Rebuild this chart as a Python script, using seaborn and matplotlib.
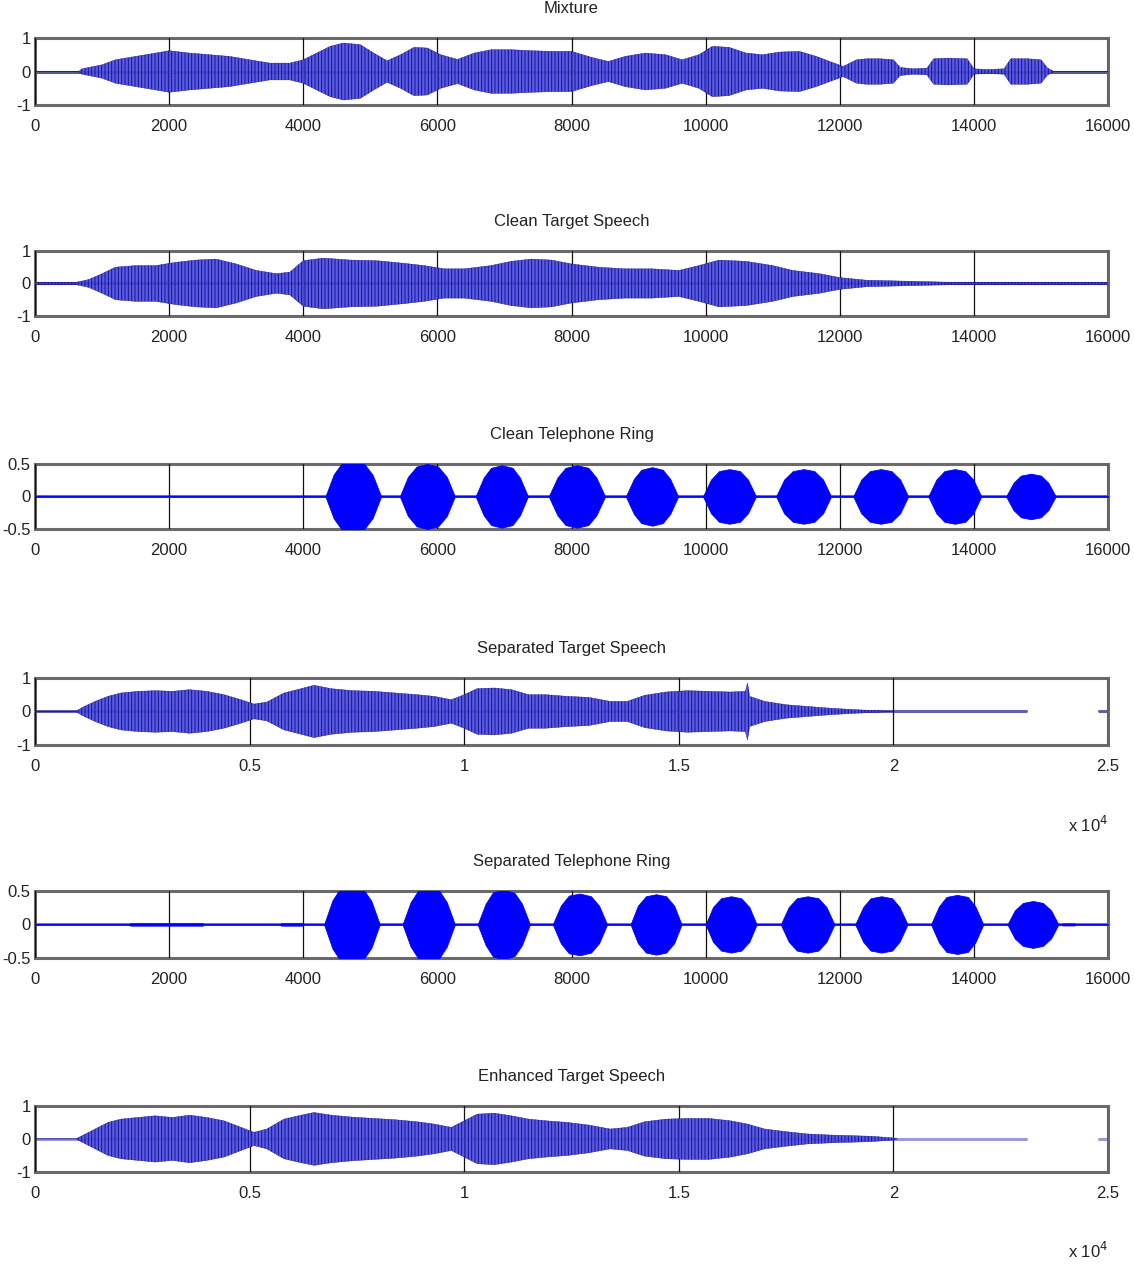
"""Speech / telephone ring separation waveforms, six stacked panels."""

import matplotlib.pyplot as plt
import seaborn as sns

# ---- data: waveform envelopes (sample index, peak amplitude) ----
mixture_env = [
    (0, 0), (650, 0), (700, 0.08), (1000, 0.2), (1200, 0.35), (1500, 0.45), (1800, 0.55),
    (2000, 0.62), (2300, 0.55), (2600, 0.5), (2900, 0.45), (3200, 0.35), (3500, 0.25),
    (3800, 0.25), (4000, 0.35), (4200, 0.55), (4400, 0.75), (4600, 0.85), (4850, 0.8),
    (5050, 0.55), (5250, 0.32), (5450, 0.5), (5650, 0.72), (5850, 0.7), (6050, 0.5),
    (6300, 0.36), (6550, 0.55), (6800, 0.65), (7100, 0.65), (7400, 0.62), (7700, 0.6),
    (8000, 0.6), (8300, 0.42), (8550, 0.3), (8800, 0.45), (9100, 0.55), (9400, 0.5),
    (9650, 0.35), (9900, 0.5), (10100, 0.75), (10350, 0.72), (10600, 0.55), (10850, 0.5),
    (11100, 0.58), (11400, 0.6), (11650, 0.45), (11850, 0.3), (12050, 0.15), (12250, 0.35),
    (12400, 0.38), (12600, 0.38), (12800, 0.35), (12900, 0.12), (13100, 0.08), (13300, 0.1),
    (13400, 0.38), (13600, 0.4), (13900, 0.38), (14000, 0.08), (14200, 0.06), (14450, 0.08),
    (14550, 0.38), (14800, 0.38), (15000, 0.35), (15100, 0.1), (15200, 0), (16000, 0),
]

clean_speech_env = [
    (0, 0.03), (600, 0.03), (800, 0.12), (1000, 0.3), (1200, 0.5), (1500, 0.55), (1800, 0.55),
    (2100, 0.65), (2400, 0.72), (2700, 0.75), (3000, 0.6), (3300, 0.4), (3600, 0.3),
    (3800, 0.35), (4000, 0.7), (4300, 0.78), (4700, 0.72), (5100, 0.7), (5500, 0.62),
    (5800, 0.55), (6100, 0.45), (6400, 0.45), (6800, 0.55), (7100, 0.68), (7400, 0.75),
    (7700, 0.72), (8000, 0.6), (8400, 0.5), (8800, 0.45), (9200, 0.45), (9600, 0.4),
    (9900, 0.55), (10200, 0.72), (10600, 0.68), (11000, 0.55), (11300, 0.4), (11700, 0.3),
    (12000, 0.18), (12400, 0.1), (12800, 0.08), (13200, 0.06), (13600, 0.04), (14000, 0.03),
    (16000, 0.03),
]

clean_ring_env = [
    (0, 0),
    (4330, 0), (4455, 0.34), (4580, 0.52), (4745, 0.56), (4910, 0.5), (5035, 0.33), (5160, 0),
    (5440, 0), (5560, 0.3), (5690, 0.46), (5850, 0.5), (6010, 0.46), (6140, 0.3), (6260, 0),
    (6570, 0), (6690, 0.29), (6800, 0.44), (6960, 0.48), (7120, 0.44), (7230, 0.29), (7350, 0),
    (7660, 0), (7790, 0.29), (7910, 0.44), (8080, 0.48), (8250, 0.44), (8370, 0.29), (8500, 0),
    (8810, 0), (8930, 0.27), (9040, 0.41), (9200, 0.45), (9360, 0.41), (9470, 0.27), (9590, 0),
    (9960, 0), (10080, 0.26), (10200, 0.39), (10355, 0.42), (10510, 0.39), (10630, 0.26), (10750, 0),
    (11050, 0), (11170, 0.26), (11300, 0.39), (11460, 0.42), (11620, 0.39), (11750, 0.26), (11870, 0),
    (12200, 0), (12320, 0.26), (12450, 0.39), (12610, 0.42), (12770, 0.39), (12900, 0.26), (13020, 0),
    (13320, 0), (13440, 0.26), (13560, 0.39), (13715, 0.42), (13870, 0.39), (13990, 0.26), (14110, 0),
    (14480, 0), (14590, 0.21), (14700, 0.32), (14850, 0.35), (15000, 0.32), (15110, 0.21), (15220, 0),
    (16000, 0),
]

sep_speech_env = [
    (0, 0), (950, 0), (1100, 0.12), (1400, 0.3), (1700, 0.45), (2000, 0.55), (2400, 0.6),
    (2800, 0.62), (3200, 0.6), (3600, 0.65), (4000, 0.6), (4400, 0.5), (4800, 0.35),
    (5100, 0.22), (5400, 0.28), (5800, 0.55), (6200, 0.68), (6500, 0.78), (6900, 0.68),
    (7400, 0.62), (7900, 0.6), (8400, 0.55), (8900, 0.5), (9300, 0.45), (9700, 0.35),
    (10000, 0.5), (10300, 0.68), (10700, 0.7), (11100, 0.65), (11500, 0.5), (11900, 0.5),
    (12400, 0.45), (12900, 0.42), (13400, 0.3), (13800, 0.3), (14200, 0.48), (14700, 0.58),
    (15200, 0.62), (15700, 0.6), (16200, 0.58), (16550, 0.6), (16600, 0.85), (16650, 0.45),
    (17000, 0.3), (17500, 0.2), (18000, 0.15), (18500, 0.1), (19000, 0.06), (19500, 0.03),
    (20000, 0),
]

sep_ring_env = [
    (0, 0),
    (1400, 0), (1420, 0.018), (2500, 0.018), (2520, 0),
    (3650, 0), (3670, 0.018), (3980, 0.018), (4000, 0),
    (4310, 0), (4435, 0.36), (4560, 0.55), (4725, 0.6), (4890, 0.53), (5015, 0.35), (5140, 0),
    (5480, 0), (5600, 0.33), (5710, 0.5), (5870, 0.55), (6030, 0.5), (6140, 0.33), (6260, 0),
    (6600, 0), (6720, 0.31), (6830, 0.48), (6990, 0.52), (7150, 0.47), (7260, 0.31), (7380, 0),
    (7720, 0), (7840, 0.28), (7960, 0.43), (8125, 0.46), (8290, 0.42), (8410, 0.28), (8530, 0),
    (8880, 0), (8990, 0.28), (9110, 0.42), (9260, 0.45), (9410, 0.42), (9530, 0.28), (9640, 0),
    (10000, 0), (10110, 0.26), (10230, 0.39), (10380, 0.42), (10530, 0.39), (10650, 0.26), (10760, 0),
    (11120, 0), (11240, 0.26), (11360, 0.39), (11520, 0.42), (11680, 0.39), (11800, 0.26), (11920, 0),
    (12230, 0), (12350, 0.26), (12460, 0.39), (12620, 0.42), (12780, 0.39), (12890, 0.26), (13010, 0),
    (13360, 0), (13480, 0.27), (13590, 0.41), (13750, 0.44), (13910, 0.41), (14020, 0.27), (14140, 0),
    (14500, 0), (14610, 0.21), (14730, 0.32), (14880, 0.35), (15030, 0.32), (15150, 0.21), (15260, 0),
    (15300, 0), (15320, 0.015), (15500, 0.015), (15520, 0), (16000, 0),
]

enhanced_env = [
    (0, 0), (950, 0), (1100, 0.1), (1400, 0.3), (1700, 0.5), (2000, 0.6), (2400, 0.65),
    (2800, 0.7), (3200, 0.65), (3600, 0.72), (4000, 0.65), (4400, 0.55), (4800, 0.35),
    (5100, 0.2), (5400, 0.3), (5800, 0.6), (6200, 0.72), (6500, 0.8), (6900, 0.72),
    (7400, 0.66), (7900, 0.62), (8400, 0.58), (8900, 0.52), (9300, 0.45), (9700, 0.35),
    (10000, 0.55), (10300, 0.75), (10700, 0.78), (11100, 0.7), (11500, 0.6), (11900, 0.55),
    (12400, 0.5), (12900, 0.42), (13400, 0.3), (13800, 0.35), (14200, 0.52), (14700, 0.6),
    (15200, 0.62), (15700, 0.62), (16200, 0.55), (16600, 0.45), (17000, 0.3), (17500, 0.22),
    (18000, 0.15), (18500, 0.12), (19000, 0.1), (19500, 0.08), (20000, 0.03), (20100, 0),
]

# stretches where the zero line of the trace is drawn
full_16k = [(0, 16000)]
split_25k = [(0, 23100), (24800, 25000)]

titles = [
    "Mixture", "Clean Target Speech", "Clean Telephone Ring",
    "Separated Target Speech", "Separated Telephone Ring", "Enhanced Target Speech",
]
ticks_16k = [0, 2000, 4000, 6000, 8000, 10000, 12000, 14000, 16000]
ticks_25k = [0, 5000, 10000, 15000, 20000, 25000]
labels_25k = ["0", "0.5", "1", "1.5", "2", "2.5"]
yticks_speech = [-1, 0, 1]
yticks_ring = [-0.5, 0, 0.5]
ylabels_ring = ["-0.5", "0", "0.5"]

sns.set_theme(style="white")
plt.rcParams["font.family"] = ["Liberation Sans Narrow", "Liberation Sans", "DejaVu Sans"]
plt.rcParams["axes.unicode_minus"] = False
plt.rcParams["hatch.linewidth"] = 0.7

FONT = 12
SPEECH_FILL = "#4c4ce4"
SPEECH_HATCH = "#10107f"
RING_BLUE = "#0000ff"


def draw_trace(ax, env, segments, kind, base_color):
    xs = [p[0] for p in env]
    amps = [p[1] for p in env]
    for start, stop in segments:
        sns.lineplot(x=[start, stop], y=[0, 0], ax=ax, color=base_color,
                     linewidth=2.2, estimator=None, zorder=2)
    lows = [-a for a in amps]
    if kind == "ring":
        ax.fill_between(xs, lows, amps, facecolor=RING_BLUE, edgecolor=RING_BLUE,
                        linewidth=0.6, zorder=3)
    else:
        ax.fill_between(xs, lows, amps, facecolor=SPEECH_FILL, edgecolor=SPEECH_HATCH,
                        hatch="|||||", linewidth=0.3, alpha=0.92, zorder=3)


def style_axes(ax, title, xmax, xticks, xlabels, yticks, ylabels):
    ax.set_xlim(0, xmax)
    ax.set_ylim(yticks[0], yticks[-1])
    ax.set_xticks(xticks)
    ax.set_xticklabels(xlabels, fontsize=FONT)
    ax.set_yticks(yticks)
    ax.set_yticklabels(ylabels, fontsize=FONT)
    ax.set_xlabel("")
    ax.set_ylabel("")
    ax.set_axisbelow(False)
    ax.xaxis.grid(True, color="#111111", linewidth=0.9)
    ax.yaxis.grid(False)
    ax.tick_params(axis="x", direction="in", length=3, pad=10, colors="#222222")
    ax.tick_params(axis="y", direction="in", length=3, pad=3, colors="#222222")
    for side in ax.spines.values():
        side.set_visible(True)
        side.set_color("#6a6a6a")
        side.set_linewidth(2.2)
    ax.set_title(title, fontsize=FONT, pad=18, color="#222222")


fig = plt.figure(figsize=(11.34, 12.7), dpi=100)

left, width = 0.0309, 0.9462
boxes = [
    (0.9173, 0.0528),
    (0.7512, 0.0512),
    (0.5835, 0.0512),
    (0.4134, 0.0528),
    (0.2457, 0.0528),
    (0.0772, 0.0520),
]

panels = [
    (mixture_env, full_16k, "speech", "#5a5a8a"),
    (clean_speech_env, full_16k, "speech", "#20207a"),
    (clean_ring_env, full_16k, "ring", "#707090"),
    (sep_speech_env, split_25k, "speech", "#6060b0"),
    (sep_ring_env, full_16k, "ring", "#7878c8"),
    (enhanced_env, split_25k, "speech", "#9a9ae0"),
]

labels_16k = [str(t) for t in ticks_16k]
speech_ylabels = [str(t) for t in yticks_speech]

for i, ((bottom, height), (env, segs, kind, base), title) in enumerate(zip(boxes, panels, titles)):
    ax = fig.add_axes([left, bottom, width, height])
    draw_trace(ax, env, segs, kind, base)
    if segs is split_25k:
        style_axes(ax, title, 25000, ticks_25k, labels_25k,
                   yticks_speech, speech_ylabels)
        ax.text(0.981, -1.19, r"x 10$^{4}$", transform=ax.transAxes,
                ha="center", va="center", fontsize=FONT, color="#222222")
    elif kind == "ring":
        style_axes(ax, title, 16000, ticks_16k, labels_16k, yticks_ring, ylabels_ring)
    else:
        style_axes(ax, title, 16000, ticks_16k, labels_16k,
                   yticks_speech, speech_ylabels)

fig.savefig("out.png", dpi=100)
plt.close(fig)
